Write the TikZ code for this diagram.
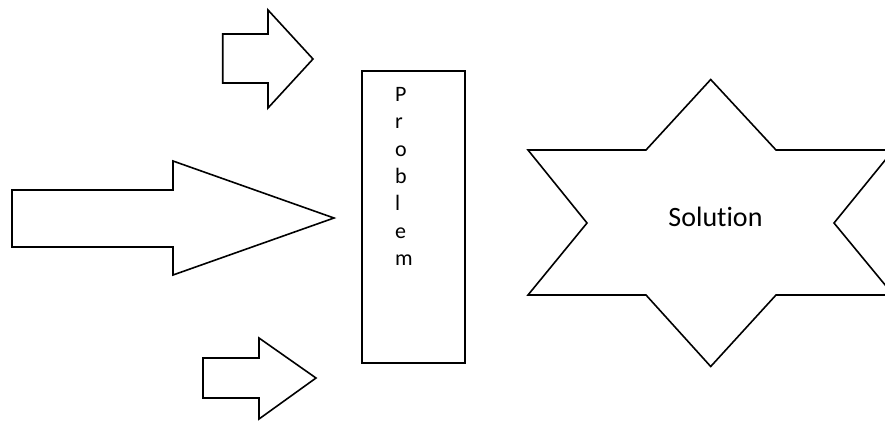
\documentclass[tikz,border=0pt]{standalone}
\usepackage{fontspec}
\setmainfont{Carlito}[Ligatures=NoCommon]
\begin{document}
\begin{tikzpicture}[x=1pt,y=-1pt,
  outline/.style={draw=black, line width=1.6pt, line join=miter, fill=white},
  letter/.style={anchor=base west, inner sep=0pt, font=\fontsize{22}{26}\selectfont},
  bigtext/.style={anchor=base, inner sep=0pt, font=\fontsize{28}{34}\selectfont}]
\useasboundingbox (0,0) rectangle (885,421);
\clip (0,0) rectangle (885,421);
% small top arrow
\draw[outline] (222.7,34) -- (268,34) -- (268,10) -- (313,59) -- (268,108) -- (268,83) -- (222.7,83) -- cycle;
% big middle arrow
\draw[outline] (12,190) -- (173,190) -- (173,161) -- (334,218) -- (173,275) -- (173,247) -- (12,247) -- cycle;
% small bottom arrow
\draw[outline] (203,358) -- (259,358) -- (259,338) -- (316,378) -- (259,419) -- (259,398) -- (203,398) -- cycle;
% problem box
\node[outline, minimum width=103pt, minimum height=292pt, inner sep=0pt] (problem) at (413.5,217) {};
\node[letter] (p1) at (395,101.5) {P};
\node[letter] (p2) at (395,128.8) {r};
\node[letter] (p3) at (395,156.1) {o};
\node[letter] (p4) at (395,183.4) {b};
\node[letter] (p5) at (395,210.7) {l};
\node[letter] (p6) at (395,238) {e};
\node[letter] (p7) at (395,265.3) {m};
% star
\draw[outline] (710.7,79.5) -- (776,150) -- (893.4,150) -- (834,223) -- (893.4,295)
  -- (776,295) -- (710.7,366.5) -- (646,295) -- (528,295) -- (587,223) -- (528,150)
  -- (646,150) -- cycle;
\node[bigtext] (solution) at (715.5,226.5) {Solution};
\end{tikzpicture}
\end{document}
